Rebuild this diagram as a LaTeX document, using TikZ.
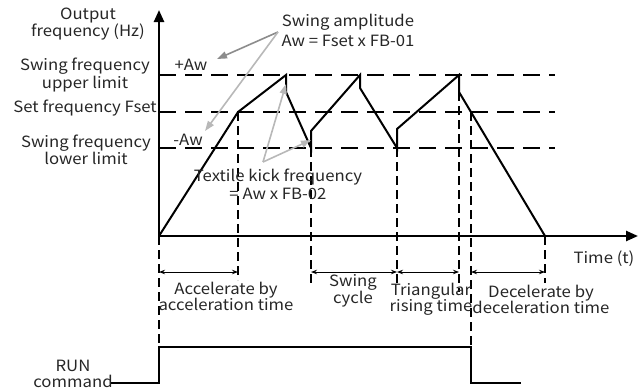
\documentclass[tikz,border=0pt]{standalone}
\usepackage{fontspec}
\setmainfont[FakeStretch=1.08]{Noto Sans CJK SC}
\usetikzlibrary{arrows.meta,positioning}

\begin{document}
\begin{tikzpicture}[
  x=1pt, y=-1pt,
  every node/.style={inner sep=0pt, text=black!85, font=\fontsize{15.5}{13.5}\selectfont},
  lbl/.style={align=center},
  axis/.style={line width=2.4pt, -{Triangle[length=12pt,width=10pt]}},
  level/.style={line width=2.8pt, dash pattern=on 17pt off 9pt},
  guide/.style={line width=2.8pt, dash pattern=on 9pt off 5pt},
  wave/.style={line width=2pt, line join=miter},
  span/.style={line width=0.9pt, {Stealth[length=6pt,width=4.5pt]}-{Stealth[length=6pt,width=4.5pt]}},
  hint/.style={line width=1.6pt, draw=black!28, -{Triangle[length=10pt,width=7pt]}},
  hintdark/.style={hint, draw=black!45}
]
\useasboundingbox (0,0) rectangle (639,391);

% axes
\coordinate (O) at (159,236);
\coordinate (ytop) at (159,10);
\coordinate (xend) at (638,236);
\draw[axis] (O) -- (ytop);
\draw[axis] (O) -- (xend);

% frequency levels
\coordinate (up0) at (159,75);  \coordinate (up1) at (555,75);
\coordinate (set0) at (159,112); \coordinate (set1) at (555,112);
\coordinate (lo0) at (159,148);  \coordinate (lo1) at (555,148);
\draw[level] (up0) -- (up1);
\draw[level] (set0) -- (set1);
\draw[level] (lo0) -- (lo1);

% output frequency
\coordinate (w1) at (238,112);
\coordinate (w2) at (286,75);
\coordinate (w3) at (286,92);
\coordinate (w4) at (311,148);
\coordinate (w5) at (311,131);
\coordinate (w6) at (360,75);
\coordinate (w7) at (360,88);
\coordinate (w8) at (397,148);
\coordinate (w9) at (397,129);
\coordinate (w10) at (459,75);
\coordinate (w11) at (459,92);
\coordinate (w12) at (545,236);
\draw[wave] (O) -- (w1) -- (w2) -- (w3) -- (w4) -- (w5) -- (w6) -- (w7)
  -- (w8) -- (w9) -- (w10) -- (w11) -- (w12);

% RUN command
\coordinate (r0) at (110,383);
\coordinate (r1) at (159,383);
\coordinate (r2) at (159,347);
\coordinate (r3) at (471,347);
\coordinate (r4) at (471,383);
\coordinate (r5) at (521,383);
\draw[wave] (r0) -- (r1) -- (r2) -- (r3) -- (r4) -- (r5);

% time marks
\coordinate (g1) at (238,280);
\coordinate (g2a) at (311,283);
\coordinate (g3a) at (397,283);
\coordinate (g4a) at (459,292);
\coordinate (g5a) at (471,112);
\coordinate (g6) at (545,283);
\draw[guide] (O) -- (r2);
\draw[guide] (w1) -- (g1);
\draw[guide] (w4) -- (g2a);
\draw[guide] (w8) -- (g3a);
\draw[guide] (w11) -- (g4a);
\draw[guide] (g5a) -- (r3);
\draw[guide] (w12) -- (g6);

\coordinate (s0) at (159,272);
\coordinate (s1) at (238,272);
\coordinate (s2) at (311,272);
\coordinate (s3) at (397,272);
\coordinate (s4) at (459,272);
\coordinate (s5) at (471,272);
\coordinate (s6) at (545,272);
\draw[span] (s0) -- (s1);
\draw[span] (s2) -- (s3);
\draw[span] (s3) -- (s4);
\draw[span] (s5) -- (s6);

% labels
\node[lbl] (ylab) at (88,24) {Output\\frequency (Hz)};
\node[lbl] (upper) at (85,75) {Swing frequency\\upper limit};
\node[anchor=east] (fset) at (157,108) {Set frequency Fset};
\node[lbl] (lower) at (86,150) {Swing frequency\\lower limit};
\node (plus) at (191,65) {+Aw};
\node (minus) at (188,140) {-Aw};
\node[lbl, font=\fontsize{15.5}{20}\selectfont] (amp) at (348,30) {Swing amplitude\\Aw = Fset x FB-01};
\node[lbl, font=\fontsize{15.5}{18}\selectfont] (kick) at (278,184) {Textile kick frequency\\= Aw x FB-02};
\node (time) at (604,259) {Time (t)};
\node[lbl, font=\fontsize{15.5}{16}\selectfont] (accel) at (226,296) {Accelerate by\\acceleration time};
\node[lbl, font=\fontsize{15.5}{16}\selectfont] (cycle) at (353,291) {Swing\\cycle};
\node[lbl, font=\fontsize{15.5}{16}\selectfont] (rise) at (431,299) {Triangular\\rising time};
\node[lbl, font=\fontsize{15.5}{16}\selectfont] (decel) at (541,299) {Decelerate by\\deceleration time};
\node[lbl, font=\fontsize{15.5}{16}\selectfont] (run) at (73,374) {RUN\\command};

% pointers
\coordinate (ampx) at (278,32);
\coordinate (kickx) at (263,162);
\coordinate (plusx) at (217,59);
\coordinate (minusx) at (205,131);
\coordinate (peakx) at (286,84);
\coordinate (valleyx) at (311,140);
\draw[hintdark] (ampx) -- (plusx);
\draw[hint] (ampx) -- (minusx);
\draw[hint] (kickx) -- (peakx);
\draw[hint] (kickx) -- (valleyx);
\end{tikzpicture}
\end{document}
